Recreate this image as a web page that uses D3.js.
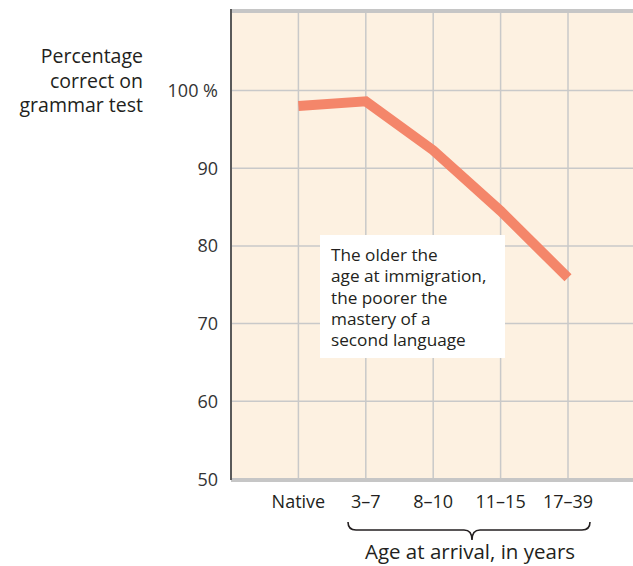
<!DOCTYPE html>
<html><head><meta charset="utf-8">
<script src="https://cdn.jsdelivr.net/npm/d3@7"></script>
<style>body{margin:0;background:#fff}svg{display:block}text{font-family:"Open Sans","Noto Sans",sans-serif;fill:#231f20}</style>
</head><body>
<svg id="c" width="633" height="566"></svg>
<script>
const categories = ["Native","3–7","8–10","11–15","17–39"];
const values = [98.0, 98.6, 92.3, 84.5, 75.9];
const yTicks = [50,60,70,80,90,100];
const yTickLabels = ["50","60","70","80","90","100 %"];
const annotation = ["The older the","age at immigration,","the poorer the","mastery of a","second language"];
const yTitle = ["Percentage","correct on","grammar test"];
const xTitle = "Age at arrival, in years";

const svg = d3.select("#c");
const pL = 231, pT = 10, pB = 479, pR = 640;
const y = d3.scaleLinear().domain([50,100]).range([pB, 90.5]);
const x = d3.scaleLinear().domain([-1, 5]).range([pL, pL + 6*67.4]);

// plot background
svg.append("rect").attr("x",pL).attr("y",pT).attr("width",pR-pL).attr("height",pB-pT).attr("fill","#fdf1e1");

// grid
const g = svg.append("g");
g.selectAll("line.h").data(yTicks.slice(1)).join("line")
  .attr("x1",pL).attr("x2",pR).attr("y1",d=>y(d)).attr("y2",d=>y(d))
  .attr("stroke","#c9c9c9").attr("stroke-width",1.5);
g.selectAll("line.v").data(d3.range(0,6)).join("line")
  .attr("x1",d=>x(d)).attr("x2",d=>x(d)).attr("y1",pT).attr("y2",pB)
  .attr("stroke","#c9c9c9").attr("stroke-width",1.5);
// top border, bottom border
svg.append("line").attr("x1",pL).attr("x2",pR).attr("y1",pT+1).attr("y2",pT+1).attr("stroke","#c6c6c6").attr("stroke-width",4);
svg.append("line").attr("x1",pL).attr("x2",pR).attr("y1",pB+1).attr("y2",pB+1).attr("stroke","#c6c6c6").attr("stroke-width",4);
// left axis
svg.append("line").attr("x1",pL).attr("x2",pL).attr("y1",pT-1).attr("y2",pB+1).attr("stroke","#5a5a5a").attr("stroke-width",2);

// y tick labels
svg.selectAll("text.yt").data(yTicks).join("text")
  .attr("x",218).attr("y",d=>y(d)+6.5).attr("text-anchor","end")
  .attr("font-size",18).style("fill","#333")
  .text((d,i)=>yTickLabels[i]);

// y title
svg.append("g").selectAll("text").data(yTitle).join("text")
  .attr("x",143).attr("y",(d,i)=>63+i*24.5).attr("text-anchor","end")
  .attr("font-size",19.5).text(d=>d);

// line
svg.append("path").datum(values)
  .attr("d", d3.line().x((d,i)=>x(i)).y(d=>y(d)))
  .attr("fill","none").attr("stroke","#f4866a").attr("stroke-width",10)
  .attr("stroke-linejoin","miter");

// annotation box
svg.append("rect").attr("x",320).attr("y",235).attr("width",185).attr("height",123).attr("fill","#fff");
svg.append("g").selectAll("text").data(annotation).join("text")
  .attr("x",331).attr("y",(d,i)=>261+i*21.3).attr("font-size",17.2).text(d=>d);

// x labels
svg.selectAll("text.xl").data(categories).join("text")
  .attr("x",(d,i)=>x(i)).attr("y",508).attr("text-anchor","middle")
  .attr("font-size",18).text(d=>d);

// brace
const bx0 = 348, bx1 = 590, bm = 472, by0 = 522, by1 = 530, by2 = 540;
const brace = d3.path();
brace.moveTo(bx0, by0);
brace.quadraticCurveTo(bx0, by1, bx0+8, by1);
brace.lineTo(bm-8, by1);
brace.quadraticCurveTo(bm, by1, bm, by2);
brace.quadraticCurveTo(bm, by1, bm+8, by1);
brace.lineTo(bx1-8, by1);
brace.quadraticCurveTo(bx1, by1, bx1, by0);
svg.append("path").attr("d",brace.toString()).attr("fill","none").attr("stroke","#231f20").attr("stroke-width",1.6);

svg.append("text").attr("x",470).attr("y",559).attr("text-anchor","middle").attr("font-size",20.5).text(xTitle);
</script>
</body></html>
